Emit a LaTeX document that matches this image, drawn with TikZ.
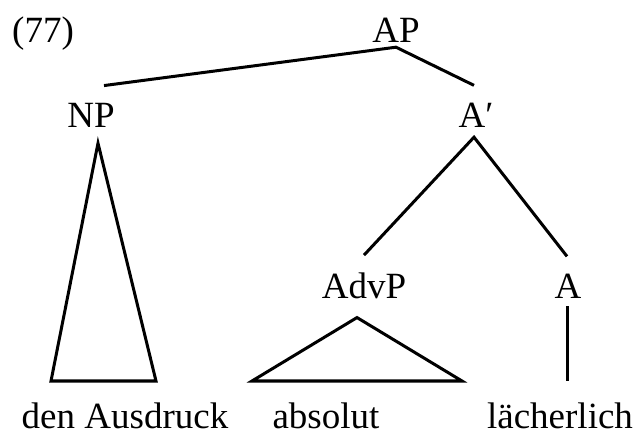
\documentclass[tikz,border=0pt]{standalone}
\usepackage{fontspec}
\setmainfont{Liberation Serif}
\newfontfamily\treefont{Liberation Serif}

\begin{document}
\begin{tikzpicture}[x=1pt,y=-1pt,
    lbl/.style={anchor=base,inner sep=4pt,font=\treefont\fontsize{37}{44}\selectfont},
    word/.style={lbl,inner sep=1pt},
    branch/.style={line width=3pt,line join=miter}]
    % \draw[help lines,step=50] (0,0) grid (637,435);
    \useasboundingbox (0,0) rectangle (637,435);

    \node[lbl,anchor=base west,inner sep=0pt] (ex) at (12,43) {(77)};

    % category labels
    \node[lbl] (ap) at (396,43) {AP};
    \node[lbl] (np) at (91,128) {NP};
    \node[lbl] (abar) at (476,128) {A′};
    \node[lbl] (advp) at (364,299) {AdvP};
    \node[lbl] (a) at (568,299) {A};

    % terminal strings
    \node[word] (ausdruck) at (125,428) {den Ausdruck};
    \node[word] (absolut) at (326,428) {absolut};
    \node[word] (laecherlich) at (560,428) {lächerlich};

    % branches
    \draw[branch] ([xshift=13pt,yshift=14pt]np.north) -- (ap.south)
        -- ([xshift=-2pt,yshift=14pt]abar.north);
    \draw[branch] ([yshift=14pt]advp.north) -- ([xshift=-2pt,yshift=-5pt]abar.south)
        -- ([xshift=-1pt,yshift=14pt]a.north);

    % roofs
    \draw[branch] ([xshift=7pt,yshift=-11pt]np.south) -- (51,381) -- (156,381) -- cycle;
    \draw[branch] ([xshift=-7pt,yshift=-14pt]advp.south) -- (252,381) -- (462,381) -- cycle;
    \draw[branch] ([xshift=-1pt,yshift=-3pt]a.south) -- (567,381);
\end{tikzpicture}
\end{document}
